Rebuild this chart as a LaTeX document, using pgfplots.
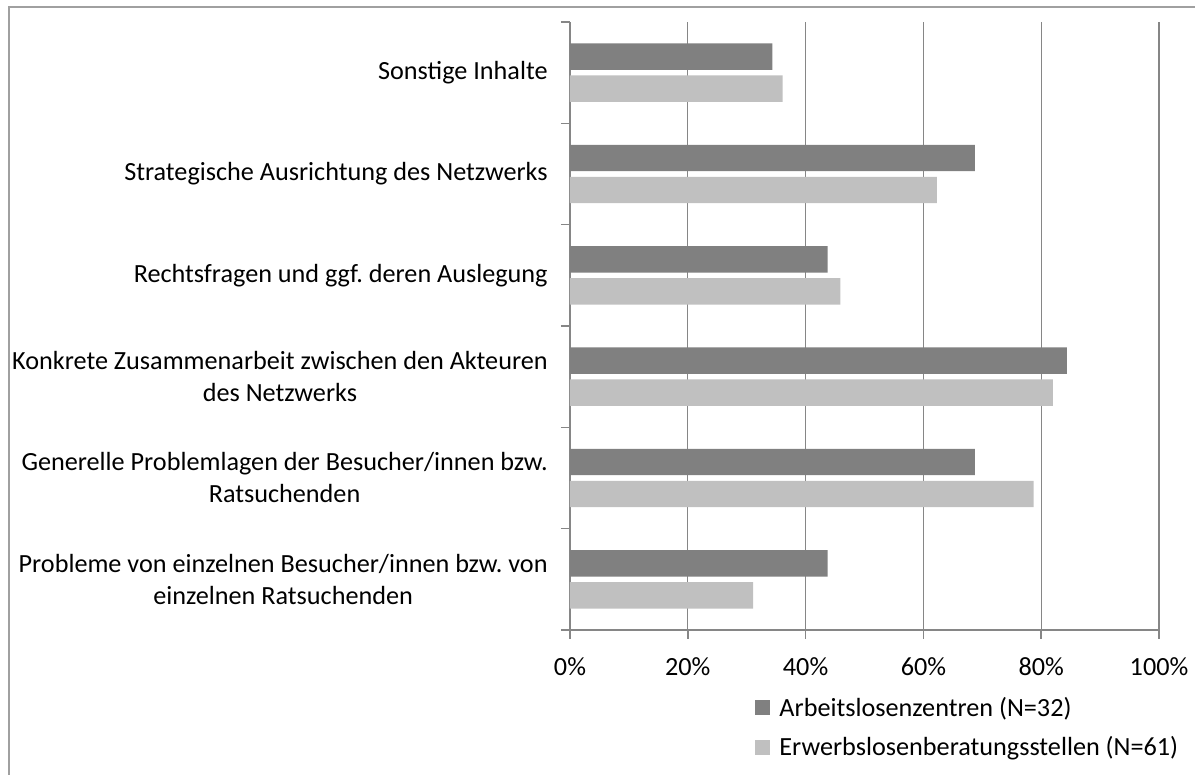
\documentclass[border=0pt]{standalone}
\usepackage{pgfplots}
\pgfplotsset{compat=1.18}
\usepackage{fontspec}
\setmainfont{Carlito}
\definecolor{darkbar}{RGB}{128,128,128}
\definecolor{lightbar}{RGB}{192,192,192}
\definecolor{axgray}{RGB}{134,134,134}
\definecolor{bordergray}{RGB}{160,160,160}
\begin{document}
\frenchspacing
\begin{tikzpicture}
\path[use as bounding box] (0pt,0pt) rectangle (597.5pt,387.5pt);
\draw[bordergray, line width=1pt] (4.25pt,0pt) -- (4.25pt,383.75pt) -- (597.5pt,383.75pt);
\begin{axis}[
  at={(285pt,72.5pt)}, anchor=south west,
  scale only axis, width=294.5pt, height=304pt,
  xbar, bar width=13.2pt,
  xmin=0, xmax=100, ymin=-0.5, ymax=5.5,
  axis x line=bottom, axis y line=left,
  axis line style={-, axgray, line width=0.75pt},
  xtick={0,20,40,60,80,100},
  xticklabels={0\%,20\%,40\%,60\%,80\%,100\%},
  xmajorgrids, major grid style={axgray, line width=0.6pt},
  tick style={axgray, line width=0.75pt},
  major tick length=4.5pt,
  tick align=outside,
  ytick={0,1,2,3,4,5},
  y tick style={draw=none},
  yticklabels={{Probleme von einzelnen Besucher/innen bzw. von\\einzelnen Ratsuchenden},
               {Generelle Problemlagen der Besucher/innen bzw.\\Ratsuchenden},
               {Konkrete Zusammenarbeit zwischen den Akteuren\\des Netzwerks},
               {Rechtsfragen und ggf. deren Auslegung},
               {Strategische Ausrichtung des Netzwerks},
               {Sonstige Inhalte}},
  yticklabel style={align=center, font=\fontsize{13.1}{16}\selectfont\frenchspacing, inner sep=0pt, xshift=-6.5pt},
  xticklabel style={font=\fontsize{13.1}{16}\selectfont, inner sep=0pt, yshift=-9pt},
  extra y ticks={-0.5,0.5,1.5,2.5,3.5,4.5,5.5},
  extra y tick labels={},
  extra y tick style={grid=none, y tick style={draw=axgray}},
  legend style={draw=none, at={(0.304,-0.1604)}, anchor=west, font=\fontsize{13.1}{16}\selectfont,
    row sep=8.5pt, column sep=4.5pt, nodes={inner sep=0pt}},
  legend cell align=left,
  legend image code/.code={\fill[#1] (0pt,-3.75pt) rectangle (7.5pt,3.75pt);},
]
\addplot[fill=darkbar, draw=none, bar shift=8pt] coordinates {
  (43.75,0) (68.75,1) (84.375,2) (43.75,3) (68.75,4) (34.375,5)};
\addplot[fill=lightbar, draw=none, bar shift=-8pt] coordinates {
  (31.1,0) (78.7,1) (82.0,2) (45.9,3) (62.3,4) (36.1,5)};
\legend{Arbeitslosenzentren (N=32), Erwerbslosenberatungsstellen (N=61)}
\end{axis}
\end{tikzpicture}
\end{document}
